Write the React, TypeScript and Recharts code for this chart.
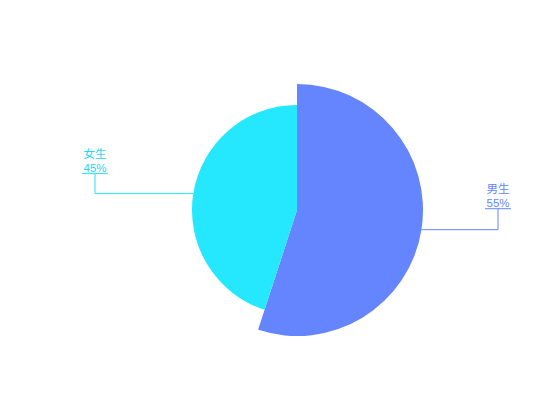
import { PieChart, Pie, Cell } from 'recharts';

const names = ['男生', '女生'];
const values = [55, 45];
const colors = ['#6585FE', '#25E7FE'];
const labelColors = ['#6585FE', '#25D6F0'];

const data = names.map((name, i) => ({ name, value: values[i] }));

const RAD = Math.PI / 180;

// leader: horizontal from slice edge, then up to an underlined two-line label
const renderLabel = (props: any) => {
  const { cx, cy, midAngle, outerRadius, index, percent } = props;
  const x0 = cx + outerRadius * Math.cos(-midAngle * RAD);
  const y0 = cy + outerRadius * Math.sin(-midAngle * RAD);
  const right = Math.cos(-midAngle * RAD) >= 0;
  const x1 = cx + (right ? 201 : -202);
  const y1 = y0 - (right ? 21 : 20);
  const c = colors[index];
  const tc = labelColors[index];
  return (
    <g>
      <path d={`M${x0},${y0}L${x1},${y0}L${x1},${y1}`} stroke={c} fill="none" strokeWidth={1} />
      <line x1={x1 - 13} x2={x1 + 13} y1={y1} y2={y1} stroke={c} strokeWidth={1} />
      <text x={x1} y={y1 - 16} textAnchor="middle" fill={tc} fontSize={11.5}>{names[index]}</text>
      <text x={x1} y={y1 - 2} textAnchor="middle" fill={tc} fontSize={11.5}
        fontFamily='"Liberation Sans", Arial, sans-serif'>{`${Math.round(percent * 100)}%`}</text>
    </g>
  );
};

export default function App() {
  return (
    <div style={{ position: 'absolute', left: 0, top: 0, width: 550, height: 420, background: '#fff', fontFamily: '"Noto Sans CJK SC", "Noto Sans", sans-serif' }}>
      <PieChart width={550} height={420}>
        <Pie
          data={data} dataKey="value" nameKey="name"
          cx={292} cy={205} innerRadius={0} outerRadius={126}
          startAngle={90} endAngle={-270} stroke="none"
          label={(p: any) => (p.index === 0 ? renderLabel(p) : null)} labelLine={false}
          isAnimationActive={false}
        >
          <Cell fill={colors[0]} />
          <Cell fill="transparent" />
        </Pie>
        <Pie
          data={data} dataKey="value" nameKey="name"
          cx={292} cy={205} innerRadius={0} outerRadius={105}
          startAngle={90} endAngle={-270} stroke="none"
          label={(p: any) => (p.index === 1 ? renderLabel(p) : null)} labelLine={false}
          isAnimationActive={false}
        >
          <Cell fill="transparent" />
          <Cell fill={colors[1]} />
        </Pie>
      </PieChart>
    </div>
  );
}
